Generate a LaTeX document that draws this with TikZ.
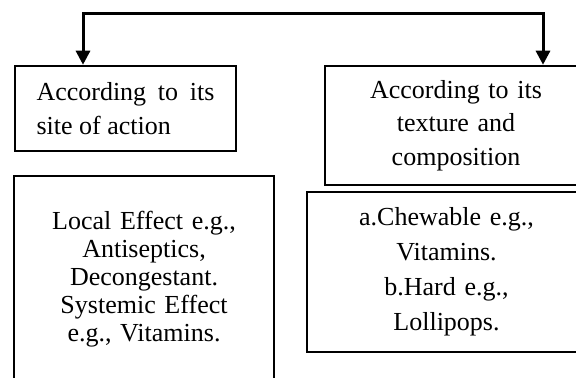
\documentclass[tikz,border=0pt]{standalone}
\usepackage{fontspec}
\setmainfont{Liberation Serif}
\usetikzlibrary{arrows.meta, positioning}
\tikzset{
    x=0.5pt, y=-0.5pt, % one unit is one pixel of the reference, y runs downwards
    catbox/.style={draw, line width=1.25pt, inner xsep=6pt, inner ysep=0pt}, % sets the properties for each box
    bus/.style={line width=1.5pt, line join=miter}, % the line that feeds the boxes
    >={Triangle[length=7pt, width=7pt]}, % makes the arrow heads filled
}

\begin{document}
\begin{tikzpicture}
                            \useasboundingbox (0,0) rectangle (576,378);
                            \clip (0,0) rectangle (576,378);
                            \node[catbox, text width=89pt, inner xsep=10.75pt, align=justify, minimum height=42.5pt,
                                  font=\fontsize{13}{16.75}\selectfont] (site) at (125.5,108.5) {According to its site of action};
                            \node[catbox, text width=119pt, align=center, minimum width=131pt, minimum height=59.5pt,
                                  font=\fontsize{13}{16.75}\selectfont] (texture) at (456,125.5) {According to its\\ texture and\\ composition};
                            \node[catbox, text width=118pt, align=center, minimum width=130pt, minimum height=103pt,
                                  font=\fontsize{13}{14}\selectfont] (effect) at (144,279) {Local Effect e.g.,\\ Antiseptics,\\ Decongestant.\\ Systemic Effect\\ e.g., Vitamins.};
                            \node[catbox, text width=127pt, align=center, minimum width=139.5pt, minimum height=80pt,
                                  font=\fontsize{13}{17.5}\selectfont] (kinds) at (446.5,272) {a.Chewable e.g.,\\ Vitamins.\\ b.Hard e.g.,\\ Lollipops.};
                            \coordinate (busL) at (83,14);
                            \coordinate (busR) at (543,14);
                            \draw[bus, <->] (busL |- site.north) -- (busL) -- (busR) -- (busR |- texture.north);
                        \end{tikzpicture}
\end{document}
